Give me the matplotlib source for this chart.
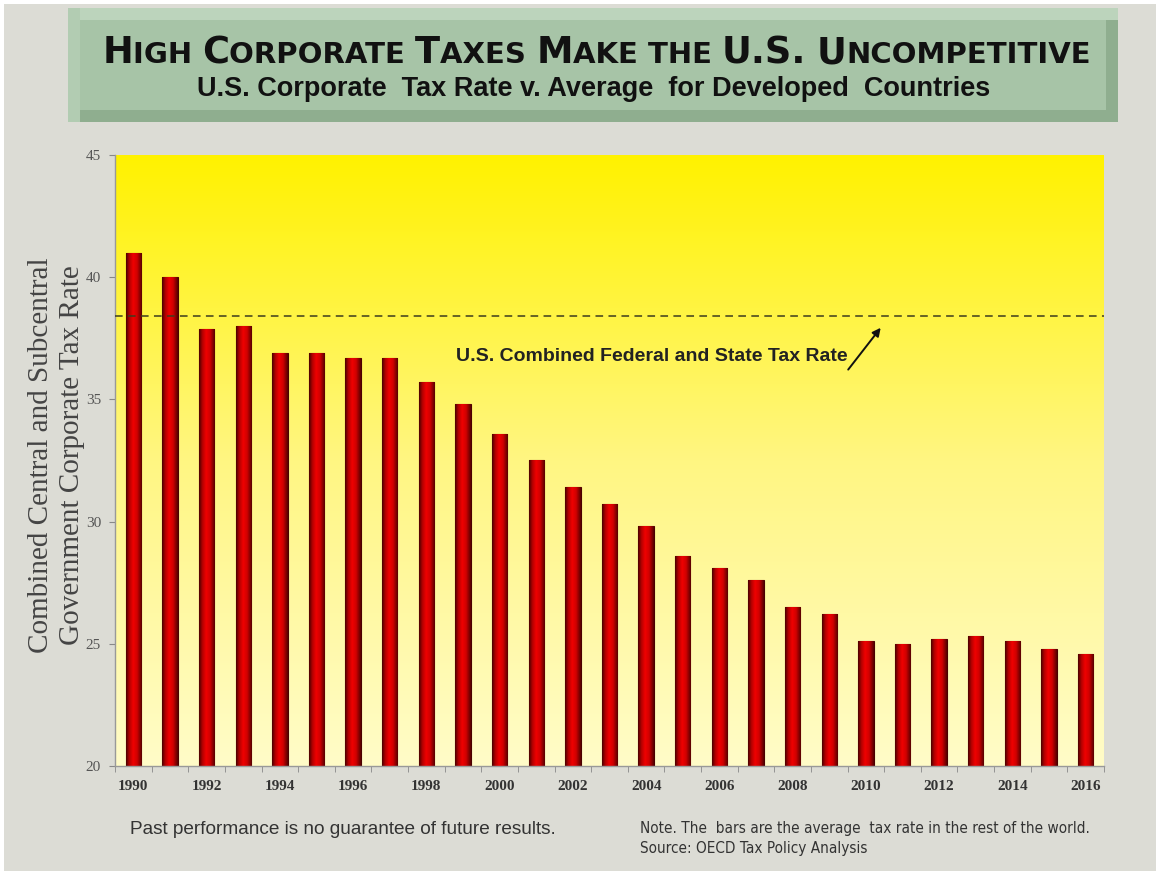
import numpy as np
import matplotlib
matplotlib.use("Agg")
import matplotlib.pyplot as plt
from matplotlib.patches import Rectangle
from matplotlib.colors import LinearSegmentedColormap
from matplotlib import font_manager

# Data
years = list(range(1990, 2017))
avg_rate = [41.0, 40.0, 37.9, 38.0, 36.9, 36.9, 36.7, 36.7, 35.7, 34.8,
            33.6, 32.5, 31.4, 30.7, 29.8, 28.6, 28.1, 27.6, 26.5, 26.2,
            25.1, 25.0, 25.2, 25.3, 25.1, 24.8, 24.6]
us_rate = 38.4
y_ticks = [20, 25, 30, 35, 40, 45]

installed = {f.name for f in font_manager.fontManager.ttflist}
narrow = 'Liberation Sans Narrow' if 'Liberation Sans Narrow' in installed else 'DejaVu Sans'
serif = 'Liberation Serif'
sans = 'Liberation Sans'

W, H = 1160, 875
fig = plt.figure(figsize=(W / 100, H / 100), dpi=100, facecolor='white')

# page background
fig.patches.append(Rectangle((4 / W, 4 / H), 1 - 8 / W, 1 - 8 / H, transform=fig.transFigure,
                             facecolor='#dcdcd5', edgecolor='none', zorder=-5))

# title box with bevel
def px_rect(x0, y0, x1, y1, color, z):
    fig.patches.append(Rectangle((x0 / W, 1 - y1 / H), (x1 - x0) / W, (y1 - y0) / H,
                                 transform=fig.transFigure, facecolor=color,
                                 edgecolor='none', zorder=z))

px_rect(68, 8, 1118, 122, '#8fae8f', 1)
px_rect(68, 8, 1118, 20, '#bcd4bc', 1.1)
px_rect(68, 8, 80, 122, '#b2ccb2', 1.1)
px_rect(80, 20, 1106, 110, '#a7c4a7', 1.2)

# small-caps title built from pieces
title = "High Corporate Taxes Make the U.S. Uncompetitive"
big, small = 26.5, 21
renderer = fig.canvas.get_renderer()
pieces = []
for ch in title:
    if ch == ' ':
        pieces.append((' ', small))
    elif ch.isupper() or not ch.isalpha():
        pieces.append((ch, big))
    else:
        pieces.append((ch.upper(), small))
runs = []
for s, sz in pieces:
    if runs and runs[-1][1] == sz:
        runs[-1][0] += s
    else:
        runs.append([s, sz])
texts = []
for s, sz in runs:
    t = fig.text(0, 1 - 63 / H, s.replace(' ', '\u00a0'), fontsize=sz, fontweight='bold',
                 family=['DejaVu Sans'], color='#111111', ha='left', va='baseline', zorder=5)
    texts.append(t)
widths = [t.get_window_extent(renderer).width for t in texts]
total = sum(widths)
x = (85 + 1108) / 2 - total / 2
for t, w in zip(texts, widths):
    t.set_x(x / W)
    x += w

fig.text(594 / W, 1 - 89 / H, "U.S. Corporate  Tax Rate v. Average  for Developed  Countries",
         fontsize=19.5, fontweight='bold', family=[sans], color='#111111',
         ha='center', va='center', zorder=5)

# chart
ax = fig.add_axes([115 / W, 1 - 766 / H, (1104 - 115) / W, (766 - 155) / H])

bg = LinearSegmentedColormap.from_list('bg', [(0, '#fffcc8'), (0.5, '#fff682'), (1, '#fff200')])
grad = np.linspace(0, 1, 256).reshape(-1, 1)
ax.imshow(grad, cmap=bg, aspect='auto', extent=(0, 1, 0, 1), origin='lower',
          transform=ax.transAxes, zorder=0)

bar_cmap = LinearSegmentedColormap.from_list(
    'bar', [(0, '#4a0000'), (0.2, '#b00000'), (0.45, '#f00000'), (0.7, '#d00000'), (1, '#580000')])
hgrad = np.linspace(0, 1, 64).reshape(1, -1)
bars = ax.bar(range(len(years)), avg_rate, width=0.42, bottom=0, color='#d00000',
              edgecolor='#4a0000', linewidth=0.8, zorder=2)
for b in bars:
    x0, w, h = b.get_x(), b.get_width(), b.get_height()
    im = ax.imshow(hgrad, cmap=bar_cmap, aspect='auto', extent=(x0, x0 + w, 20, h), zorder=2.5)
    im.set_clip_path(b)
ax.set_xlim(-0.5, len(years) - 0.5)
ax.set_ylim(20, 45)

ax.axhline(us_rate, color='#3c3c1e', ls=(0, (5, 3.5)), lw=1.1, zorder=3)
ax.annotate('', xy=(20.45, 38.02), xytext=(19.47, 36.13),
            arrowprops=dict(arrowstyle='-|>', color='#111111', lw=1.4, mutation_scale=12), zorder=4)
ax.text(14.15, 36.75, "U.S. Combined Federal and State Tax Rate", fontsize=14,
        fontweight='bold', family=[sans], color='#222222', ha='center', va='center', zorder=4)

ax.set_yticks(y_ticks)
ax.set_yticklabels([str(v) for v in y_ticks], family=serif, fontsize=11, color='#555555')
ax.set_xticks(range(0, len(years), 2))
ax.set_xticklabels([str(y) for y in years[::2]], family=serif, fontsize=11,
                   fontweight='bold', color='#333333')
ax.set_xticks(np.arange(-0.5, len(years), 1), minor=True)
ax.tick_params(axis='x', which='major', length=0, pad=10)
ax.tick_params(axis='x', which='minor', length=4, color='#888888', direction='out')
ax.tick_params(axis='y', length=4, color='#888888', direction='out', pad=6)
for s in ['top', 'right']:
    ax.spines[s].set_visible(False)
for s in ['left', 'bottom']:
    ax.spines[s].set_color('#999999')
    ax.spines[s].set_linewidth(1)

fig.text(57 / W, 1 - 455 / H, "Combined Central and Subcentral\nGovernment Corporate Tax Rate",
         rotation=90, family=serif, fontsize=21, color='#444444', ha='center', va='center',
         linespacing=1.25)

fig.text(130 / W, 1 - 830 / H, "Past performance is no guarantee of future results.",
         family=[sans], fontsize=13.7, color='#333333', ha='left', va='center')
fig.text(640 / W, 1 - 829 / H, "Note. The  bars are the average  tax rate in the rest of the world.",
         family=[narrow, 'DejaVu Sans'], fontstretch='condensed', fontsize=11,
         color='#333333', ha='left', va='center')
fig.text(640 / W, 1 - 848 / H, "Source: OECD Tax Policy Analysis",
         family=[narrow, 'DejaVu Sans'], fontstretch='condensed', fontsize=11,
         color='#333333', ha='left', va='center')

fig.savefig('out.png', dpi=100, facecolor=fig.get_facecolor())
